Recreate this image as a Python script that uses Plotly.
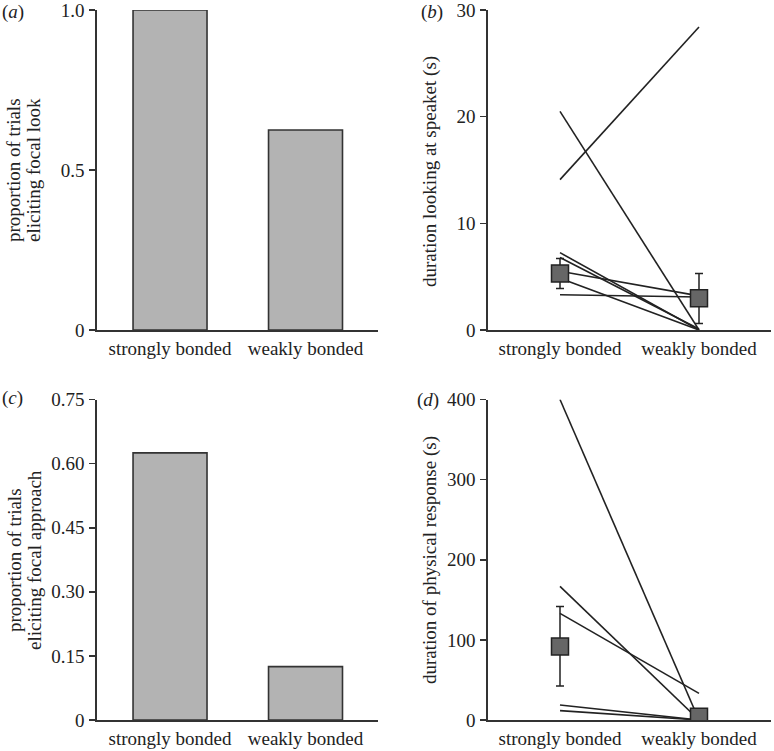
import plotly.graph_objects as go

# ---------------- data ----------------
categories = ["strongly bonded", "weakly bonded"]

# (a) proportion of trials eliciting focal look
prop_look = [1.0, 0.625]
# (c) proportion of trials eliciting focal approach
prop_approach = [0.625, 0.125]

# (b) duration looking at speaker (s): individual pairs (strongly, weakly)
look_strong = [14.1, 20.5, 7.25, 6.8, 5.5, 4.85, 3.3]
look_weak = [28.4, 0.0, 0.0, 0.1, 3.2, 0.0, 3.1]
look_mean = [5.3, 2.97]
look_err_up = [1.4, 2.33]
look_err_down = [1.4, 2.37]

# (d) duration of physical response (s)
resp_strong = [400, 166.7, 133, 18.75, 11.7]
resp_weak = [0, 0, 33.3, 0, 0]
resp_mean = [91.7, 4.2]
resp_err_up = [50, 0]
resp_err_down = [49.2, 0]

# ---------------- layout helpers ----------------
W, H = 774, 751
FONT = "Liberation Serif, Times New Roman, serif"
TXT = "#222222"
AX = "#333333"
FS = 19


def px_x(p):
    return p / W


def px_y(p):
    return 1 - p / H


xpos = [0, 1]

fig = go.Figure()

# (a) bars
fig.add_trace(go.Bar(x=xpos, y=prop_look, width=0.546, marker=dict(color="#b3b3b3", line=dict(color=AX, width=1.6)),
                     xaxis="x", yaxis="y", showlegend=False))
# (c) bars
fig.add_trace(go.Bar(x=xpos, y=prop_approach, width=0.546, marker=dict(color="#b3b3b3", line=dict(color=AX, width=1.6)),
                     xaxis="x3", yaxis="y3", showlegend=False))

# (b) individual lines
for s, w in zip(look_strong, look_weak):
    fig.add_trace(go.Scatter(x=xpos, y=[s, w], mode="lines", line=dict(color="#222222", width=1.6),
                             xaxis="x2", yaxis="y2", showlegend=False, hoverinfo="skip"))
fig.add_trace(go.Scatter(x=xpos, y=look_mean, mode="markers",
                         marker=dict(symbol="square", size=17, color="#666666", line=dict(color="#222222", width=1.5)),
                         error_y=dict(type="data", symmetric=False, array=look_err_up, arrayminus=look_err_down,
                                      color="#222222", thickness=1.5, width=4),
                         xaxis="x2", yaxis="y2", showlegend=False))

# (d) individual lines
for s, w in zip(resp_strong, resp_weak):
    fig.add_trace(go.Scatter(x=xpos, y=[s, w], mode="lines", line=dict(color="#222222", width=1.6),
                             xaxis="x4", yaxis="y4", showlegend=False, hoverinfo="skip"))
fig.add_trace(go.Scatter(x=xpos, y=resp_mean, mode="markers",
                         marker=dict(symbol="square", size=17, color="#666666", line=dict(color="#222222", width=1.5)),
                         error_y=dict(type="data", symmetric=False, array=resp_err_up, arrayminus=resp_err_down,
                                      color="#222222", thickness=1.5, width=4),
                         xaxis="x4", yaxis="y4", showlegend=False))

dom_x_left = [px_x(97), px_x(378)]
dom_x_right = [px_x(488), px_x(771)]
dom_y_top = [px_y(330), px_y(10)]
dom_y_bot = [px_y(720), px_y(399.5)]


def xaxis(domain, anchor, rng):
    return dict(domain=domain, anchor=anchor, range=rng, tickvals=xpos, ticktext=categories,
                showline=True, linecolor=AX, linewidth=1.8, ticks="", showgrid=False, zeroline=False,
                automargin=False, ticklabeloverflow="allow",
                tickfont=dict(family=FONT, size=FS, color=TXT), ticklabelstandoff=0, fixedrange=True)


def yaxis(domain, anchor, rng, tickvals, ticktext):
    return dict(domain=domain, anchor=anchor, range=rng, tickvals=tickvals, ticktext=ticktext,
                showline=True, linecolor=AX, linewidth=1.8, ticks="outside", ticklen=6, tickwidth=1.6,
                tickcolor=AX, showgrid=False, zeroline=False, automargin=False, ticklabeloverflow="allow",
                tickfont=dict(family=FONT, size=FS, color=TXT), ticklabelstandoff=1, fixedrange=True)


ann = []


def label(text, x, y, angle=0, xanchor="center"):
    ann.append(dict(text=text, x=px_x(x), y=px_y(y), xref="paper", yref="paper", showarrow=False,
                    textangle=angle, xanchor=xanchor, yanchor="middle",
                    font=dict(family=FONT, size=FS, color=TXT)))


# y-axis titles
label("proportion of trials", 13, 170, -90)
label("eliciting focal look", 33, 170, -90)
label("duration looking at speaket (s)", 430, 172, -90)
label("proportion of trials", 14, 560, -90)
label("eliciting focal approach", 34, 560, -90)
label("duration of physical response (s)", 430, 560, -90)
# panel letters
label("(<i>a</i>)", 0, 12, xanchor="left")
label("(<i>b</i>)", 419, 12, xanchor="left")
label("(<i>c</i>)", 0, 398, xanchor="left")
label("(<i>d</i>)", 415, 400, xanchor="left")

fig.update_layout(
    template="none",
    width=W, height=H, autosize=False,
    margin=dict(l=0, r=0, t=0, b=0, pad=0),
    paper_bgcolor="white", plot_bgcolor="white",
    bargap=0,
    xaxis=xaxis(dom_x_left, "y", [-0.539, 1.535]),
    yaxis=yaxis(dom_y_top, "x", [0, 1.0], [0, 0.5, 1.0], ["0", "0.5", "1.0"]),
    xaxis2=xaxis(dom_x_right, "y2", [-0.518, 1.518]),
    yaxis2=yaxis(dom_y_top, "x2", [0, 30], [0, 10, 20, 30], ["0", "10", "20", "30"]),
    xaxis3=xaxis(dom_x_left, "y3", [-0.539, 1.535]),
    yaxis3=yaxis(dom_y_bot, "x3", [0, 0.75], [0, 0.15, 0.30, 0.45, 0.60, 0.75],
                 ["0", "0.15", "0.30", "0.45", "0.60", "0.75"]),
    xaxis4=xaxis(dom_x_right, "y4", [-0.518, 1.518]),
    yaxis4=yaxis(dom_y_bot, "x4", [0, 400], [0, 100, 200, 300, 400], ["0", "100", "200", "300", "400"]),
    annotations=ann,
)

fig.write_html("out.html", config={"displayModeBar": False, "staticPlot": True},
               post_script="document.body.style.margin='0px';")
